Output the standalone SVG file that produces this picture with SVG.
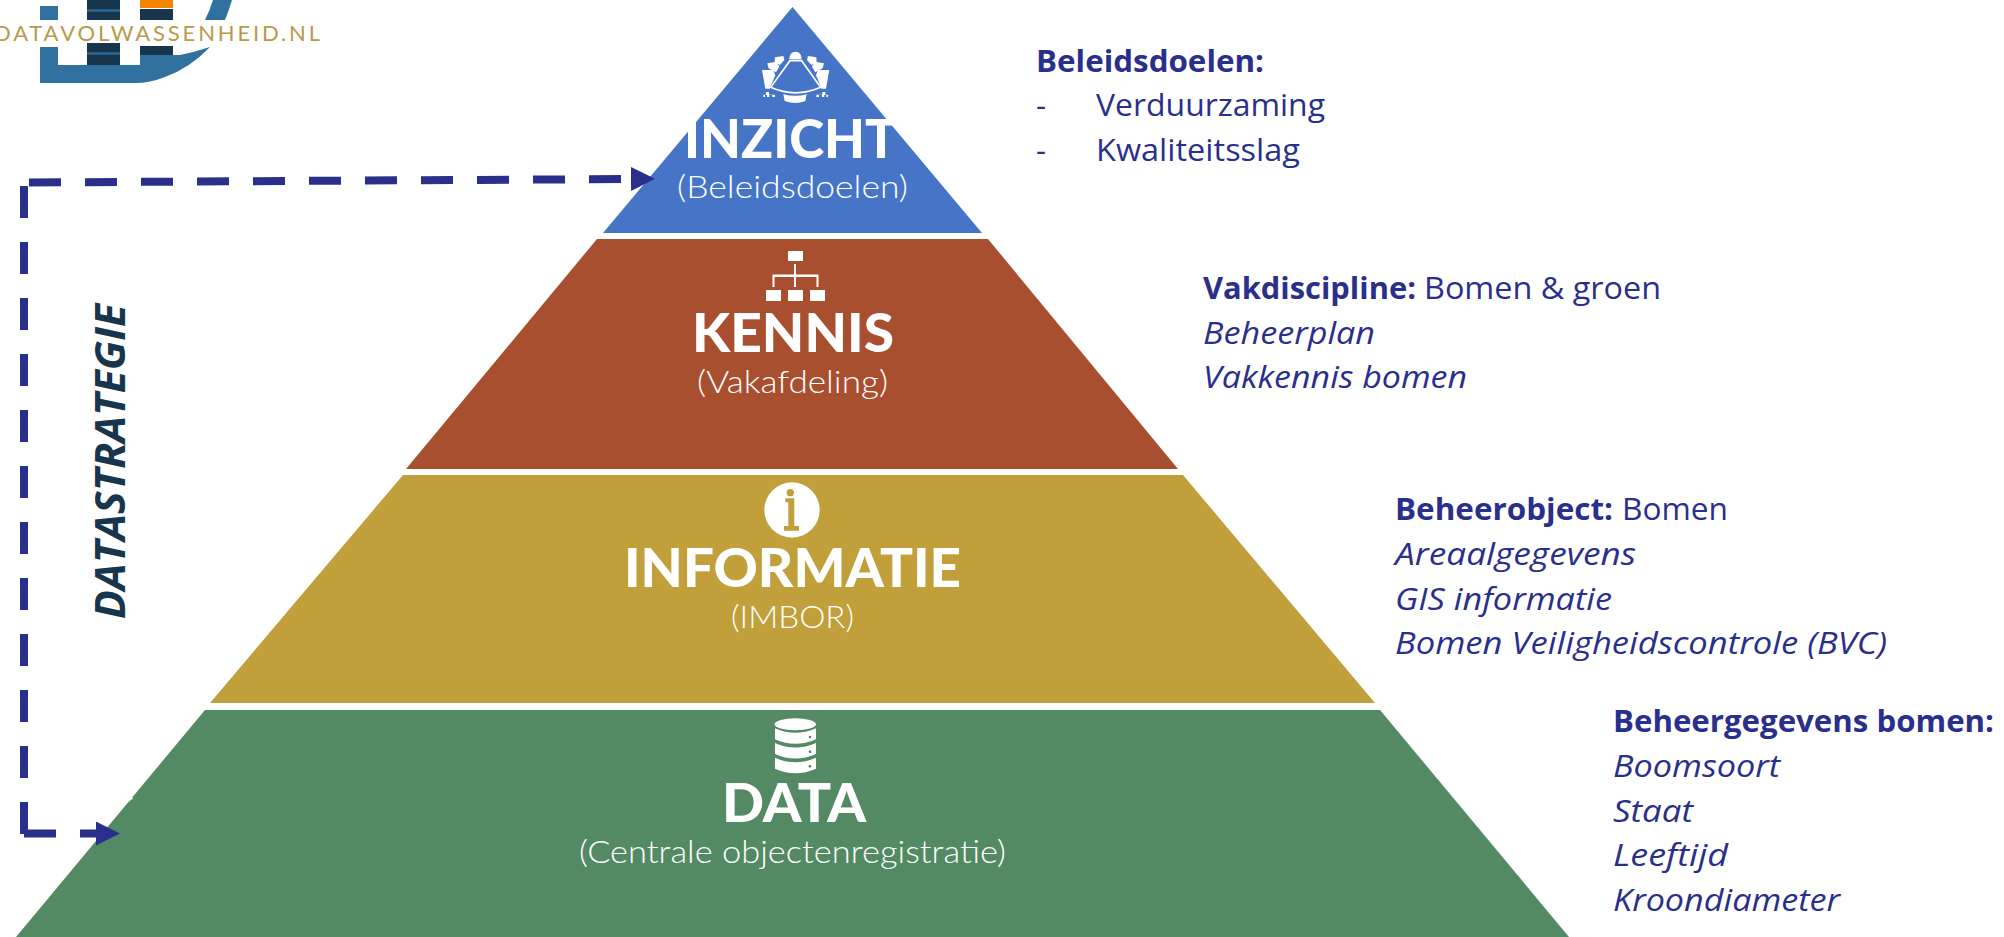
<svg xmlns="http://www.w3.org/2000/svg" width="2004" height="937" viewBox="0 0 2004 937">
<style>
.t{font-family:"Lato","Noto Sans",sans-serif;font-weight:900;font-size:53px;fill:#fff}
.s{font-family:"Lato","Noto Sans",sans-serif;font-weight:300;font-size:32px;fill:#fff}
.n{font-family:"Open Sans","Noto Sans",sans-serif;font-size:31px;fill:#2b2f8c}
.b{font-weight:700}
.i{font-style:italic}
.w{fill:#fff}
.dash{fill:none;stroke:#2b2f8c;stroke-width:8;stroke-dasharray:32 24}
</style>
<defs>
<marker id="arrow" markerUnits="userSpaceOnUse" markerWidth="24" markerHeight="24" refX="0" refY="12" orient="auto"><path d="M0 0L24 12L0 24Z" fill="#2b2f8c"/></marker>
</defs>
<rect width="2004" height="937" fill="#fff"/>
<g id="logo">
<path d="M40 47H58V65H140V47H173V55H180Q195 52 210 47Q190 68 165 77Q150 83 135 83H40ZM40 6H58V20H40ZM213 0H232Q229 10 225 20H205Q210 10 213 0Z" fill="#31719f"/>
<path d="M87 0H120V20H87ZM87 43H120V65H87ZM140 9H173V20H140ZM140 46H173V55H140Z" fill="#17364d"/>
<path d="M87 9.500H120V11.500H87ZM87 52.500H120V54.500H87Z" fill="#31719f"/>
<rect x="140" y="0" width="33" height="8" fill="#f58400"/>
<text x="-6" y="41" textLength="326" lengthAdjust="spacing" style="font-family:'Lato','Noto Sans',sans-serif;font-size:22px;fill:#b89a4a">DATAVOLWASSENHEID.NL</text>
</g>
<g id="inzicht">
<path d="M792.500 7L982 233H603Z" fill="#4674c6"/>
<g transform="translate(580 0) scale(.3333)" fill="#fff">
<path d="M628 178Q628 155 647 155Q665 155 665 178Z"/>
<g id="chairs">
<path d="M585 172L610 168L613 180L600 195L584 186Z"/>
<path d="M562 190L590 185L598 200L588 217L566 205Z"/>
<path d="M546 210L580 210L586 226L572 258L570 266L556 266Z"/>
<path d="M550 291V284H558V276H567V284H585V291H577V285H568V291H561V285H555V291Z"/>
</g>
<g transform="matrix(-1 0 0 1 1294 0)">
<path d="M585 172L610 168L613 180L600 195L584 186Z"/>
<path d="M562 190L590 185L598 200L588 217L566 205Z"/>
<path d="M546 210L580 210L586 226L572 258L570 266L556 266Z"/>
<path d="M550 291V284H558V276H567V284H585V291H577V285H568V291H561V285H555V291Z"/>
</g>
<path d="M630 182H665L722 262Q647 295 572 262Z" fill="#4674c6" stroke="#fff" stroke-width="5"/>
<path d="M610 283Q647 292 680 283L676 303Q647 315 614 303Z"/>
</g>
<text class="t" x="684" y="158" textLength="213" lengthAdjust="spacingAndGlyphs">INZICHT</text>
<text class="s" x="677" y="198" textLength="231" lengthAdjust="spacingAndGlyphs">(Beleidsdoelen)</text>
</g>
<g id="kennis">
<path d="M597 239H988L1178 469H406Z" fill="#a84f2f"/>
<g class="w">
<rect x="788" y="251" width="15" height="10"/>
<rect x="766" y="290" width="15" height="11"/>
<rect x="788" y="290" width="15" height="11"/>
<rect x="810" y="290" width="15" height="11"/>
<path d="M794 264H796V274.500H818.500V287H816.500V277H796V287H794V277H774.500V287H772.500V274.500H794Z"/>
</g>
<text class="t" x="692" y="352" textLength="202" lengthAdjust="spacingAndGlyphs">KENNIS</text>
<text class="s" x="697" y="393" textLength="191" lengthAdjust="spacingAndGlyphs">(Vakafdeling)</text>
</g>
<g id="informatie">
<path d="M403 475H1183L1375 703H210Z" fill="#c19f3b"/>
<circle cx="792" cy="510" r="27.700" fill="#fff"/>
<g transform="translate(600 470) scale(.3333)" fill="#c19f3b">
<circle cx="571" cy="68" r="11"/>
<path d="M556 85H583V168H597V182H552V168H565V97H556Z"/>
</g>
<text class="t" x="624" y="587" textLength="337" lengthAdjust="spacingAndGlyphs">INFORMATIE</text>
<text class="s" x="731" y="628" textLength="123" lengthAdjust="spacingAndGlyphs">(IMBOR)</text>
</g>
<g id="data">
<path d="M205 710H1380L1569 937H16Z" fill="#538a63"/>
<path d="M127 803L133 798.500L131 796Z" fill="#fff"/>
<g transform="translate(560 700) scale(.3333)">
<g fill="#fff">
<ellipse cx="706" cy="73" rx="62" ry="18"/>
<path d="M645 85Q706 112 768 85V118Q706 145 645 118Z"/>
<path d="M645 129Q706 156 768 129V162Q706 189 645 162Z"/>
<path d="M645 173Q706 200 768 173V206Q706 233 645 206Z"/>
</g>
<g fill="#538a63">
<circle cx="750" cy="111" r="4"/>
<circle cx="750" cy="155" r="4"/>
<circle cx="750" cy="199" r="4"/>
</g>
</g>
<text class="t" x="722" y="822" textLength="144" lengthAdjust="spacingAndGlyphs">DATA</text>
<text class="s" x="579" y="863" textLength="427" lengthAdjust="spacingAndGlyphs">(Centrale objectenregistratie)</text>
</g>
<g id="connectors">
<path class="dash" d="M29 182.500L631 179" marker-end="url(#arrow)"/>
<path class="dash" d="M24 186V834"/>
<path class="dash" d="M24 833.500H96" marker-end="url(#arrow)"/>
</g>
<text id="datastrategie" transform="translate(125 619) rotate(-90)" textLength="315" lengthAdjust="spacingAndGlyphs" style="font-family:'Open Sans','Noto Sans',sans-serif;font-weight:700;font-style:italic;font-size:42px;fill:#17364d">DATASTRATEGIE</text>
<g id="notes-inzicht">
<text class="n b" x="1036" y="72" textLength="228" lengthAdjust="spacingAndGlyphs">Beleidsdoelen:</text>
<text class="n" x="1036" y="116">-</text>
<text class="n" x="1096" y="116" textLength="229" lengthAdjust="spacingAndGlyphs">Verduurzaming</text>
<text class="n" x="1036" y="161">-</text>
<text class="n" x="1096" y="161" textLength="204" lengthAdjust="spacingAndGlyphs">Kwaliteitsslag</text>
</g>
<g id="notes-kennis">
<text class="n b" x="1203" y="299" textLength="213" lengthAdjust="spacingAndGlyphs">Vakdiscipline:</text>
<text class="n" x="1424" y="299" textLength="237" lengthAdjust="spacingAndGlyphs">Bomen &amp; groen</text>
<text class="n i" x="1203" y="344" textLength="172" lengthAdjust="spacingAndGlyphs">Beheerplan</text>
<text class="n i" x="1203" y="388" textLength="264" lengthAdjust="spacingAndGlyphs">Vakkennis bomen</text>
</g>
<g id="notes-informatie">
<text class="n b" x="1395" y="520" textLength="218" lengthAdjust="spacingAndGlyphs">Beheerobject:</text>
<text class="n" x="1622" y="520" textLength="106" lengthAdjust="spacingAndGlyphs">Bomen</text>
<text class="n i" x="1395" y="565" textLength="241" lengthAdjust="spacingAndGlyphs">Areaalgegevens</text>
<text class="n i" x="1395" y="610" textLength="217" lengthAdjust="spacingAndGlyphs">GIS informatie</text>
<text class="n i" x="1395" y="654" textLength="492" lengthAdjust="spacingAndGlyphs">Bomen Veiligheidscontrole (BVC)</text>
</g>
<g id="notes-data">
<text class="n b" x="1613" y="732" textLength="381" lengthAdjust="spacingAndGlyphs">Beheergegevens bomen:</text>
<text class="n i" x="1613" y="777" textLength="167" lengthAdjust="spacingAndGlyphs">Boomsoort</text>
<text class="n i" x="1613" y="822" textLength="80" lengthAdjust="spacingAndGlyphs">Staat</text>
<text class="n i" x="1613" y="866" textLength="115" lengthAdjust="spacingAndGlyphs">Leeftijd</text>
<text class="n i" x="1613" y="911" textLength="227" lengthAdjust="spacingAndGlyphs">Kroondiameter</text>
</g>
</svg>
